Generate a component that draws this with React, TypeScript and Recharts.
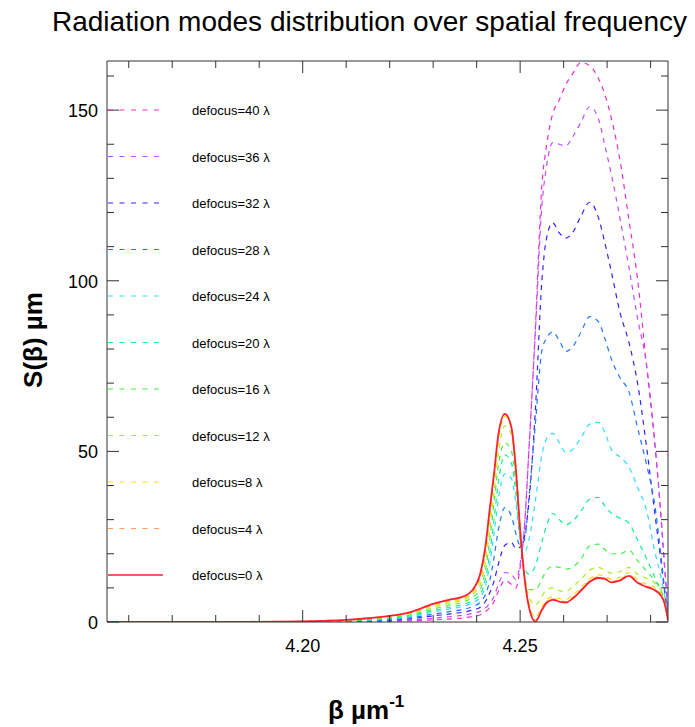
import React from "react";
import { LineChart, Line, XAxis, YAxis } from "recharts";

// spatial frequency beta (µm^-1)
const BETA = [4.155, 4.170, 4.185, 4.195, 4.200, 4.205, 4.210, 4.215, 4.220, 4.225, 4.230, 4.234, 4.237, 4.239,
  4.241, 4.242, 4.243, 4.244, 4.245, 4.2465, 4.248, 4.249, 4.250, 4.251, 4.252, 4.2535,
  4.255, 4.256, 4.2575, 4.259, 4.2605, 4.262, 4.264, 4.266, 4.268, 4.2695, 4.271, 4.273, 4.275, 4.277, 4.279, 4.281, 4.2825, 4.2832, 4.2838, 4.284];

const DEFOCUS_0 = [0, 0, 0.05, 0.1, 0.2, 0.35, 0.6, 1.1, 1.8, 3.0, 5.3, 6.6, 7.5, 9.3,
  15, 22, 33, 43.5, 55, 61, 57, 45, 27, 13, 4.5, 0.1,
  3.5, 5.5, 6.5, 6.0, 5.7, 6.8, 9.2, 11.8, 12.9, 12.6, 11.6, 12.2, 13.5, 11.5, 10.3, 9.3, 7.5, 5.5, 2.0, 0.5];
const DEFOCUS_4 = [0, 0, 0.05, 0.1, 0.2, 0.35, 0.6, 1.05, 1.75, 2.9, 5.1, 6.4, 7.3, 9.0,
  14.3, 21, 32, 43, 54.5, 60.8, 57, 45.5, 27.5, 13.5, 5, 0.6,
  3.8, 5.8, 6.8, 6.3, 6.0, 7.1, 9.5, 12.1, 13.2, 12.9, 11.9, 12.5, 13.8, 11.8, 10.6, 9.6, 7.8, 5.7, 2.1, 0.5];
const DEFOCUS_8 = [0, 0, 0.05, 0.1, 0.2, 0.3, 0.55, 1.0, 1.65, 2.7, 4.8, 6.0, 6.9, 8.5,
  13, 19.5, 30, 41.5, 53, 60.3, 57, 46, 27.5, 14, 5.8, 1.3,
  4.4, 6.4, 7.4, 6.9, 6.6, 7.7, 10.1, 12.7, 13.8, 13.5, 12.5, 13.1, 14.4, 12.4, 11.1, 10.1, 8.2, 6.0, 2.2, 0.6];
const DEFOCUS_12 = [0, 0, 0.04, 0.08, 0.15, 0.28, 0.5, 0.9, 1.5, 2.5, 4.3, 5.6, 6.5, 8.0,
  11.5, 17.5, 27, 38, 49.5, 57.5, 55, 44, 26.5, 14, 7.5, 5.0,
  7.5, 9.3, 10.0, 9.2, 8.9, 10.3, 12.5, 15.2, 16.0, 15.2, 14.3, 14.8, 16.0, 14.0, 12.8, 11.4, 9.0, 6.5, 2.5, 0.8];
const DEFOCUS_16 = [0, 0, 0.03, 0.06, 0.12, 0.22, 0.4, 0.75, 1.3, 2.2, 3.8, 5.0, 5.9, 7.2,
  10, 15, 24, 35, 46, 52.5, 50, 41, 25.5, 13.5, 9.5, 9.5,
  12.5, 15.0, 16.3, 16.0, 15.5, 16.0, 18.5, 22.3, 22.8, 21.2, 20.0, 20.0, 21.0, 18.0, 15.0, 12.0, 9.0, 6.0, 2.5, 0.8];
const DEFOCUS_20 = [0, 0, 0.02, 0.05, 0.1, 0.18, 0.33, 0.6, 1.1, 1.9, 3.3, 4.4, 5.2, 6.3,
  8.5, 12.5, 20, 30, 41, 49, 46.5, 38, 25, 16, 14, 16.5,
  23.5, 28, 31.8, 30, 28.5, 29.5, 32.5, 36, 36.5, 34, 31.8, 30.4, 29, 24, 18.8, 13, 8.6, 5.5, 2.0, 0.8];
const DEFOCUS_24 = [0, 0, 0.02, 0.04, 0.08, 0.15, 0.27, 0.5, 0.9, 1.6, 2.9, 3.9, 4.6, 5.6,
  7.5, 10.5, 17, 26, 36, 43.5, 42, 35, 24, 20.5, 24, 35.5,
  49, 53.5, 55.3, 52.5, 49.7, 50.5, 54, 58, 58.5, 55.5, 50.5, 48.3, 45.5, 39.5, 33, 20.5, 12.5, 8, 3, 1];
const DEFOCUS_28 = [0, 0, 0.01, 0.03, 0.06, 0.12, 0.22, 0.4, 0.7, 1.3, 2.3, 3.1, 3.7, 4.5,
  6, 8, 12, 19, 27, 33.5, 31, 26, 22.5, 24, 36, 58,
  79.5, 83, 85, 82.5, 79.3, 80.5, 85, 89.5, 88, 83, 77, 71.5, 67.5, 57, 46.5, 34, 18, 10, 4, 1];
const DEFOCUS_32 = [0, 0, 0.01, 0.02, 0.04, 0.08, 0.15, 0.3, 0.55, 1.0, 1.8, 2.4, 2.9, 3.5,
  4.5, 6, 8.5, 12, 17, 22.5, 23.3, 21.5, 22, 25, 35, 62,
  100, 112, 117, 114, 112.5, 114, 119, 123, 118.5, 111, 102.5, 90.5, 82, 70, 52, 31.5, 16.5, 9, 3, 1];
const DEFOCUS_36 = [0, 0, 0.01, 0.02, 0.03, 0.06, 0.1, 0.2, 0.35, 0.6, 1.1, 1.6, 2.0, 2.5,
  3.2, 4, 5.5, 7.5, 11, 14.5, 14, 12.5, 17, 28, 50, 85,
  122, 133, 140.5, 140, 139.5, 142, 146.5, 151, 147.5, 139.5, 131, 118, 104, 89, 76, 52, 29, 17, 6, 1.5];
const DEFOCUS_40 = [0, 0, 0.01, 0.01, 0.02, 0.04, 0.07, 0.12, 0.2, 0.35, 0.6, 0.9, 1.2, 1.6,
  2.2, 3, 4.2, 6, 9, 12.2, 11, 10, 16, 28, 50, 86,
  128, 139, 149, 153, 157.5, 160.5, 164, 163, 159.3, 154.5, 147.5, 135, 118, 100.5, 76, 52, 29, 16, 6, 1];

const X_TICKS = [4.16, 4.17, 4.18, 4.19, 4.20, 4.21, 4.22, 4.23, 4.24, 4.25, 4.26, 4.27, 4.28];
const X_MAJOR = [4.20, 4.25];
const Y_TICKS = [0, 10, 20, 30, 40, 50, 60, 70, 80, 90, 100, 110, 120, 130, 140, 150, 160];
const Y_MAJOR = [0, 50, 100, 150];

const SERIES = [
  { key: "d40", label: "defocus=40 λ", color: "#ee2cd0", values: DEFOCUS_40, solid: false },
  { key: "d36", label: "defocus=36 λ", color: "#c04cff", values: DEFOCUS_36, solid: false },
  { key: "d32", label: "defocus=32 λ", color: "#3322ff", values: DEFOCUS_32, solid: false },
  { key: "d28", label: "defocus=28 λ", color: "#2277ff", values: DEFOCUS_28, solid: false },
  { key: "d24", label: "defocus=24 λ", color: "#33dcff", values: DEFOCUS_24, solid: false },
  { key: "d20", label: "defocus=20 λ", color: "#11ee8c", values: DEFOCUS_20, solid: false },
  { key: "d16", label: "defocus=16 λ", color: "#44ee44", values: DEFOCUS_16, solid: false },
  { key: "d12", label: "defocus=12 λ", color: "#aaee22", values: DEFOCUS_12, solid: false },
  { key: "d8", label: "defocus=8 λ", color: "#ffdd00", values: DEFOCUS_8, solid: false },
  { key: "d4", label: "defocus=4 λ", color: "#ffa060", values: DEFOCUS_4, solid: false },
  { key: "d0", label: "defocus=0 λ", color: "#ff2030", values: DEFOCUS_0, solid: true },
];

const DATA = BETA.map((b, i) => {
  const row: any = { beta: b };
  SERIES.forEach((s) => { row[s.key] = s.values[i]; });
  return row;
});

const FONT = "'Liberation Sans', Arial, Helvetica, sans-serif";
const AXIS = "#333";

const isMajor = (v: number, majors: number[]) => majors.some((m) => Math.abs(m - v) < 1e-6);

const BottomTick = (p: any) => {
  const { x, y, payload } = p;
  const major = isMajor(payload.value, X_MAJOR);
  return (
    <g>
      <line x1={x} x2={x} y1={y} y2={y - (major ? 12 : 7)} stroke={AXIS} strokeWidth={1} />
      {major && (
        <text x={x} y={y + 30} textAnchor="middle" fontSize={18} fontFamily={FONT} fill="#000">
          {payload.value.toFixed(2)}
        </text>
      )}
    </g>
  );
};
const TopTick = (p: any) => {
  const { x, y, payload } = p;
  const major = isMajor(payload.value, X_MAJOR);
  return <line x1={x} x2={x} y1={y} y2={y + (major ? 12 : 7)} stroke={AXIS} strokeWidth={1} />;
};
const LeftTick = (p: any) => {
  const { x, y, payload } = p;
  const major = isMajor(payload.value, Y_MAJOR);
  return (
    <g>
      <line x1={x} x2={x + (major ? 12 : 7)} y1={y} y2={y} stroke={AXIS} strokeWidth={1} />
      {major && (
        <text x={x - 9} y={y + 7} textAnchor="end" fontSize={18} fontFamily={FONT} fill="#000">
          {payload.value}
        </text>
      )}
    </g>
  );
};
const RightTick = (p: any) => {
  const { x, y, payload } = p;
  const major = isMajor(payload.value, Y_MAJOR);
  return <line x1={x} x2={x - (major ? 12 : 7)} y1={y} y2={y} stroke={AXIS} strokeWidth={1} />;
};

export default function App() {
  return (
    <div style={{ position: "absolute", left: 0, top: 0, width: 695, height: 727, background: "#fff" }}>
      <LineChart width={695} height={727} data={DATA} margin={{ top: 60, right: 26, bottom: 104, left: 106 }}>
        <XAxis dataKey="beta" type="number" domain={[4.155, 4.284]} ticks={X_TICKS} interval={0}
          allowDataOverflow height={1} tickLine={false} tickSize={0} tickMargin={0}
          axisLine={{ stroke: AXIS }} tick={BottomTick} />
        <XAxis xAxisId="top" orientation="top" dataKey="beta" type="number" domain={[4.155, 4.284]} ticks={X_TICKS}
          interval={0} allowDataOverflow height={1} tickLine={false} tickSize={0} tickMargin={0}
          axisLine={{ stroke: AXIS }} tick={TopTick} />
        <YAxis type="number" domain={[0, 164.4]} ticks={Y_TICKS} interval={0} allowDataOverflow width={1}
          tickLine={false} tickSize={0} tickMargin={0} axisLine={{ stroke: AXIS }} tick={LeftTick} />
        <YAxis yAxisId="right" orientation="right" type="number" domain={[0, 164.4]} ticks={Y_TICKS} interval={0}
          allowDataOverflow width={1} tickLine={false} tickSize={0} tickMargin={0} axisLine={{ stroke: AXIS }} tick={RightTick} />
        {SERIES.map((s) => (
          <Line key={s.key} dataKey={s.key} type="monotone" stroke={s.color} dot={false} activeDot={false}
            strokeWidth={s.solid ? 1.8 : 1.2} strokeDasharray={s.solid ? undefined : "5 5"}
            isAnimationActive={false} />
        ))}
      </LineChart>
      <svg width={695} height={727} style={{ position: "absolute", left: 0, top: 0, pointerEvents: "none" }}>
        <text x={369.5} y={31} textAnchor="middle" fontSize={28} fontFamily={FONT} fill="#000">
          Radiation modes distribution over spatial frequency
        </text>
        <text transform="translate(42,340) rotate(-90)" textAnchor="middle" fontSize={26} fontWeight="bold" fontFamily={FONT} fill="#000">
          S(β) µm
        </text>
        <text x={328} y={719} fontSize={26} fontWeight="bold" fontFamily={FONT} fill="#000">
          β µm<tspan dy={-12} fontSize={17}>-1</tspan>
        </text>
        {SERIES.map((s, i) => {
          const y = 110 + i * 46.5;
          return (
            <g key={s.key}>
              <line x1={108} x2={163} y1={y} y2={y} stroke={s.color} strokeWidth={s.solid ? 1.3 : 1.2}
                strokeDasharray={s.solid ? undefined : "5 6.5"} />
              <text x={192} y={y + 5} fontSize={13} fontFamily={FONT} fill="#000">{s.label}</text>
            </g>
          );
        })}
      </svg>
    </div>
  );
}
